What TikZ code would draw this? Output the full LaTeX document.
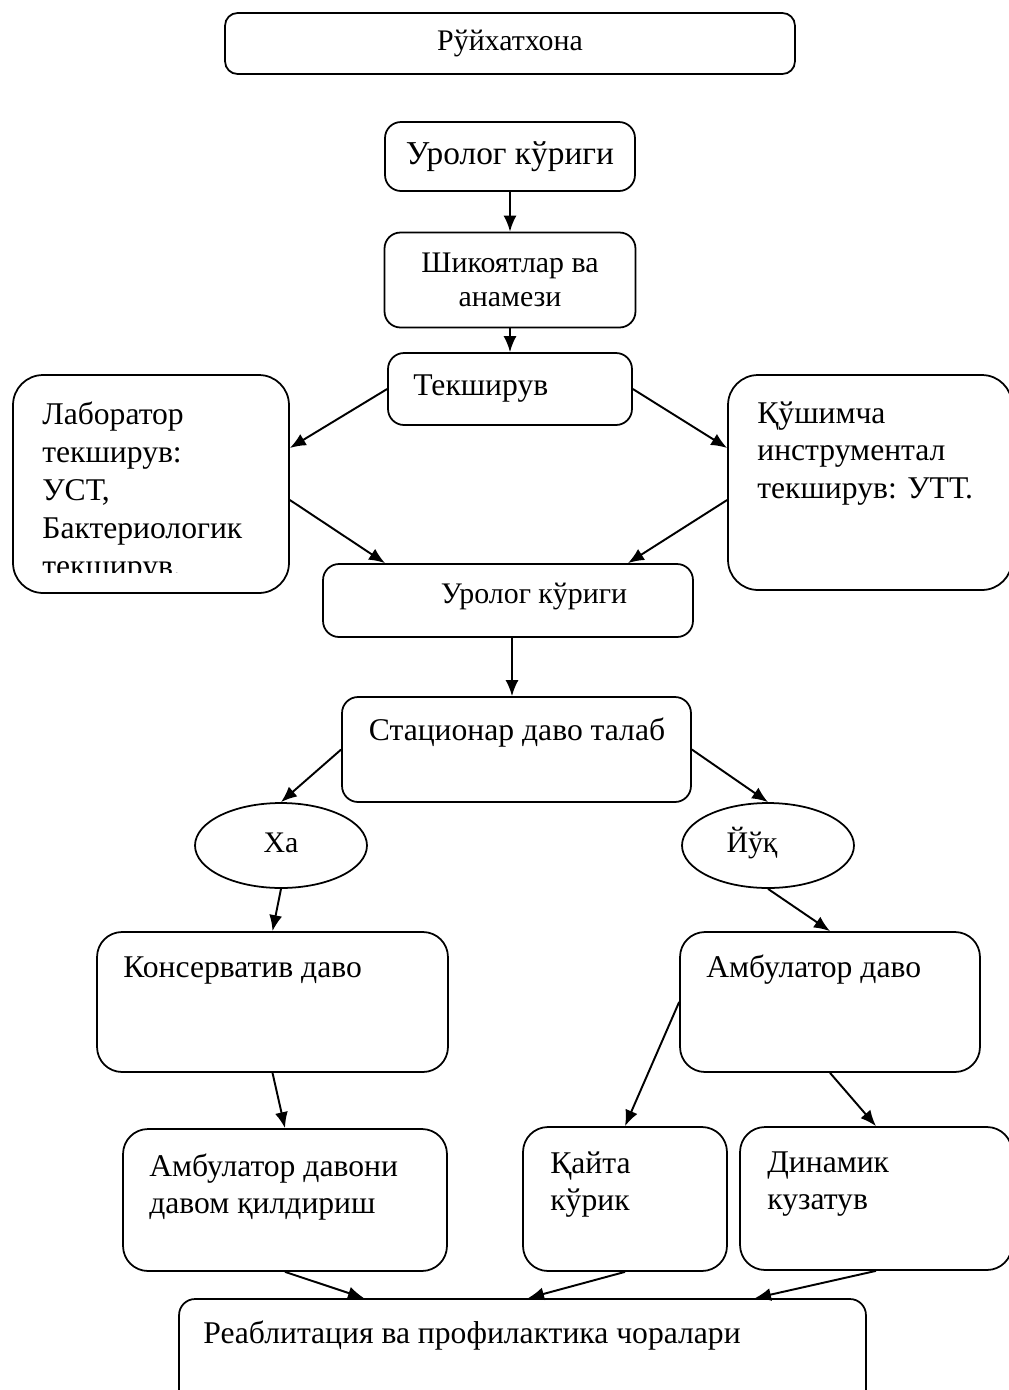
\documentclass[tikz,border=0pt]{standalone}
\usepackage{fontspec}
\setmainfont{Liberation Serif}
\usetikzlibrary{shapes.geometric,arrows.meta}

\begin{document}
\begin{tikzpicture}[x=0.02cm,y=-0.02cm,
	box/.style={draw,line width=1pt,rounded corners=0.32cm,inner sep=0pt},
	oval/.style={draw,ellipse,line width=1pt,minimum width=3.44cm,minimum height=1.7cm,inner sep=0pt},
	big/.style={font=\fontsize{18}{21.5}\selectfont,inner sep=0pt,align=left},
	small/.style={font=\fontsize{17}{19.5}\selectfont,inner sep=0pt,align=center},
	arr/.style={-{Latex[length=0.32cm,width=0.26cm]},line width=1.1pt}]

\useasboundingbox (0,0) rectangle (1008,1390);

% top column
\node[box,rounded corners=0.25cm,minimum width=11.4cm,minimum height=1.22cm,font=\fontsize{17}{20}\selectfont] (reg) at (510,43.5) {Рўйхатхона};
\node[box,minimum width=5cm,minimum height=1.38cm,font=\fontsize{19}{22}\selectfont] (uro1) at (510,156.5) {Уролог кўриги};
\node[box,minimum width=5.02cm,minimum height=1.9cm,small] (shik) at (510,280) {Шикоятлар ва\\анамези};
\node[box,minimum width=4.88cm,minimum height=1.44cm] (tek) at (510,389) {};
\node[big,anchor=base west] (tekt) at (413,395) {Текширув};

% side boxes
\node[box,rounded corners=0.6cm,minimum width=5.52cm,minimum height=4.36cm] (lab) at (151,484) {};
\begin{scope}
\clip (0,380) rectangle (300,572);
\node[big,anchor=north west] (labt) at (42,402) {Лаборатор\\текширув:\\УСТ,\\Бактериологик\\текширув.};
\end{scope}
\node[box,rounded corners=0.6cm,minimum width=5.68cm,minimum height=4.3cm] (kush) at (870,482.5) {};
\node[big,anchor=north west] (kusht) at (757,401) {Қўшимча\\инструментал\\текширув: УТТ.};

\node[box,minimum width=7.4cm,minimum height=1.46cm] (uro2) at (508,600.5) {};
\node[small,anchor=base] (uro2t) at (534,603) {Уролог кўриги};

\node[box,minimum width=6.98cm,minimum height=2.1cm] (stat) at (516.5,749.5) {};
\node[big,anchor=base] (statt) at (517,740) {Стационар даво талаб};

% yes / no
\node[oval] (ha) at (281,845.5) {};
\node[small,anchor=base] (hat) at (281,852) {Ха};
\node[oval] (jok) at (768,845.5) {};
\node[small,anchor=base] (jokt) at (752,852) {Йўқ};

% treatment
\node[box,rounded corners=0.5cm,minimum width=7.02cm,minimum height=2.8cm] (kons) at (272.5,1002) {};
\node[big,anchor=base west] (konst) at (123,977) {Консерватив даво};
\node[box,rounded corners=0.5cm,minimum width=6cm,minimum height=2.8cm] (amb) at (830,1002) {};
\node[big,anchor=base west] (ambt) at (706,977) {Амбулатор даво};

\node[box,rounded corners=0.5cm,minimum width=6.48cm,minimum height=2.84cm] (ambd) at (285,1200) {};
\node[big,anchor=north west] (ambdt) at (149,1153) {Амбулатор давони\\давом қилдириш};
\node[box,rounded corners=0.5cm,minimum width=4.08cm,minimum height=2.88cm] (qayta) at (625,1199) {};
\node[big,anchor=north west] (qaytat) at (550,1151) {Қайта\\кўрик};
\node[box,rounded corners=0.5cm,minimum width=5.44cm,minimum height=2.86cm] (din) at (876,1198.5) {};
\node[big,anchor=north west] (dint) at (767,1151) {Динамик\\кузатув};

\node[box,minimum width=13.74cm,minimum height=2.22cm] (reab) at (522.5,1354.5) {};
\node[big,anchor=base west] (reabt) at (203,1343) {Реаблитация ва профилактика чоралари};

% arrows
\draw[arr] (uro1.south) -- (shik.north);
\draw[arr] (shik.south) -- (tek.north);
\draw[arr] (tek.west) -- ([yshift=0.72cm]lab.east);
\draw[arr] (tek.east) -- ([yshift=0.69cm]kush.west);
\draw[arr] ([yshift=-0.32cm]lab.east) -- ([xshift=-2.46cm]uro2.north);
\draw[arr] ([yshift=-0.35cm]kush.west) -- ([xshift=2.4cm]uro2.north);
\draw[arr] ([xshift=0.08cm]uro2.south) -- ([xshift=0.08cm]uro2.south |- stat.north);
\draw[arr] (stat.west) -- (ha.north);
\draw[arr] (stat.east) -- (jok.north);
\draw[arr] (ha.south) -- (kons.north);
\draw[arr] (jok.south) -- (amb.north);
\draw[arr] (kons.south) -- (ambd.north);
\draw[arr] (amb.west) -- (qayta.north);
\draw[arr] (amb.south) -- (din.north);
\draw[arr] (ambd.south) -- ([xshift=-3.17cm]reab.north);
\draw[arr] (qayta.south) -- ([xshift=0.11cm]reab.north);
\draw[arr] (din.south) -- ([xshift=4.65cm]reab.north);

\end{tikzpicture}
\end{document}
